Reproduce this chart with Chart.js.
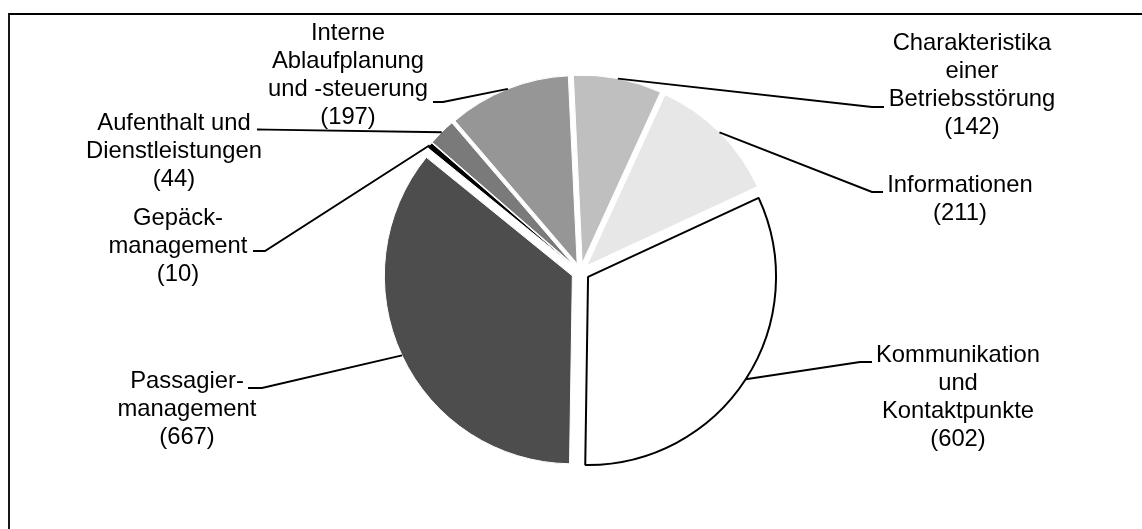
<!DOCTYPE html>
<html>
<head>
<meta charset="utf-8">
<script src="https://cdn.jsdelivr.net/npm/chart.js@4.4.1/dist/chart.umd.min.js"></script>
<style>
  html, body { margin: 0; padding: 0; background: #fff; }
  #wrap { width: 1142px; height: 529px; }
</style>
</head>
<body>
<div id="wrap"><canvas id="myChart" width="1142" height="529"></canvas></div>
<script>
// categories (clockwise from the top) and number of mentions
const categories = [
    "Charakteristika einer Betriebsstörung",
    "Informationen",
    "Kommunikation und Kontaktpunkte",
    "Passagiermanagement",
    "Gepäckmanagement",
    "Aufenthalt und Dienstleistungen",
    "Interne Ablaufplanung und -steuerung"
];
const labelLines = [
    ["Charakteristika", "einer", "Betriebsstörung"],
    ["Informationen"],
    ["Kommunikation", "und", "Kontaktpunkte"],
    ["Passagier-", "management"],
    ["Gepäck-", "management"],
    ["Aufenthalt und", "Dienstleistungen"],
    ["Interne", "Ablaufplanung", "und -steuerung"]
];
const mentions = [142, 211, 602, 667, 10, 44, 197];

// styles
const sliceColors = ["#bfbfbf", "#e7e7e7", "#ffffff", "#4d4d4d", "#000000", "#7a7a7a", "#969696"];
const sliceBorders = ["#ffffff", "#ffffff", "#000000", "#ffffff", "#ffffff", "#ffffff", "#ffffff"];
const sliceBorderWidths = [1, 1, 2, 1, 1, 1, 1];
const explode = 9;
const lineHeight = 28;

// where each label sits, and the elbow of its leader line
const labelLayout = [
    { x: 972, y: 43,  elbow: [872, 107], end: [884, 107] },
    { x: 960, y: 185, elbow: [872, 192], end: [883, 192] },
    { x: 958, y: 355, elbow: [860, 362], end: [872, 362] },
    { x: 187, y: 381, elbow: [262, 388], end: [248, 388] },
    { x: 178, y: 218, elbow: [265, 251], end: [253, 251] },
    { x: 174, y: 123, elbow: [267, 129.6], end: [257, 129.5] },
    { x: 348, y: 33,  elbow: [443, 102], end: [433, 102] }
];

const frame = {
    id: "frame",
    beforeDraw(chart) {
        const ctx = chart.ctx;
        ctx.save();
        ctx.fillStyle = "#fff";
        ctx.fillRect(0, 0, chart.width, chart.height);
        ctx.strokeStyle = "#000";
        ctx.lineWidth = 1.8;
        ctx.beginPath();
        ctx.moveTo(9, chart.height);
        ctx.lineTo(9, 14);
        ctx.lineTo(chart.width, 14);
        ctx.stroke();
        ctx.restore();
    }
};

// push every slice out from the centre along its mid angle
const explodeSlices = {
    id: "explodeSlices",
    afterDatasetUpdate(chart, args) {
        args.meta.data.forEach((arc) => {
            const mid = (arc.startAngle + arc.endAngle) / 2;
            arc.x += Math.cos(mid) * explode;
            arc.y += Math.sin(mid) * explode;
        });
    }
};

const leaderLabels = {
    id: "leaderLabels",
    afterDatasetsDraw(chart) {
        const ctx = chart.ctx;
        const meta = chart.getDatasetMeta(0);
        ctx.save();
        ctx.strokeStyle = "#000";
        ctx.lineWidth = 1.9;
        ctx.fillStyle = "#000";
        ctx.font = "23.8px 'Liberation Sans', Arial, sans-serif";
        ctx.textAlign = "center";
        ctx.textBaseline = "middle";
        meta.data.forEach((arc, i) => {
            const mid = (arc.startAngle + arc.endAngle) / 2;
            const px = arc.x + Math.cos(mid) * arc.outerRadius;
            const py = arc.y + Math.sin(mid) * arc.outerRadius;
            const L = labelLayout[i];
            ctx.beginPath();
            ctx.moveTo(px, py);
            ctx.lineTo(L.elbow[0], L.elbow[1]);
            ctx.lineTo(L.end[0], L.end[1]);
            ctx.stroke();
            const lines = labelLines[i].concat("(" + mentions[i] + ")");
            lines.forEach((t, k) => {
                ctx.fillText(t, L.x, L.y + k * lineHeight);
            });
        });
        ctx.restore();
    }
};

const myChart = document.getElementById("myChart");
new Chart(myChart, {
    type: "pie",
    data: {
        labels: categories,
        datasets: [{
            data: mentions,
            backgroundColor: sliceColors,
            borderColor: sliceBorders,
            borderWidth: sliceBorderWidths
        }]
    },
    options: {
        responsive: false,
        animation: false,
        devicePixelRatio: 1,
        rotation: -2.7,
        radius: 188,
        layout: { padding: { left: 19, right: 0, top: 15, bottom: 0 } },
        plugins: {
            legend: { display: false },
            tooltip: { enabled: false }
        }
    },
    plugins: [frame, explodeSlices, leaderLabels]
});
</script>
</body>
</html>
